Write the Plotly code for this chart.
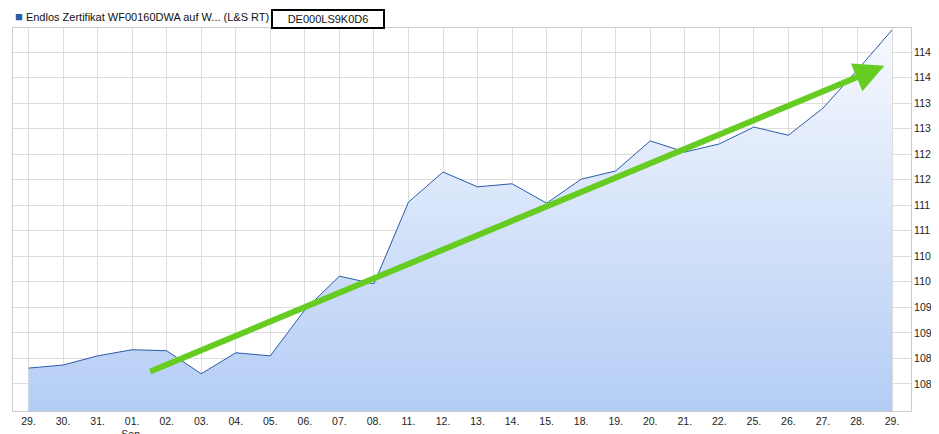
import plotly.graph_objects as go

labels = ["29.", "30.", "31.", "01.<br>Sep.", "02.", "03.", "04.", "05.", "06.", "07.", "08.", "11.", "12.",
          "13.", "14.", "15.", "18.", "19.", "20.", "21.", "22.", "25.", "26.", "27.", "28.", "29."]
kurs = [108.31, 108.37, 108.55, 108.67, 108.65, 108.20, 108.61, 108.55, 109.45, 110.11, 109.96, 111.56, 112.15,
        111.86, 111.92, 111.54, 112.01, 112.17, 112.76, 112.54, 112.70, 113.03, 112.87, 113.40, 114.15, 114.93]
yticks = [108.0 + 0.5 * i for i in range(14)]
ymin, ymax = 107.47, 114.97

xs = list(range(len(kurs)))

fig = go.Figure()
fig.add_trace(go.Scatter(x=xs, y=[ymin] * len(xs), mode="lines", line=dict(width=0), showlegend=False,
                         hoverinfo="skip"))
fig.add_trace(go.Scatter(
    x=xs, y=kurs, mode="lines", line=dict(color="#2a5caa", width=1), fill="tonexty",
    fillgradient=dict(type="vertical", colorscale=[[0, "#b4cdf5"], [1, "#f7f9fe"]]),
    showlegend=False))

# Trendpfeil
fig.add_annotation(x=24.78, y=114.23, ax=3.48, ay=108.23, xref="x", yref="y", axref="x", ayref="y",
                   showarrow=True, arrowhead=2, arrowsize=1.0, arrowwidth=6, arrowcolor="#66cc22", text="")

fig.add_annotation(x=5, y=9, xref="paper", yref="paper", xanchor="left", yanchor="middle", showarrow=False,
                   text="<span style='color:#2a5caa;font-size:13px'>■</span> Endlos Zertifikat WF00160DWA auf W... (L&S RT)",
                   font=dict(size=11, color="#111"))
fig.add_annotation(x=263, y=11, xref="paper", yref="paper", xanchor="left", yanchor="middle", showarrow=False,
                   text="DE000LS9K0D6", font=dict(size=11, color="#111"), bordercolor="black", borderwidth=2,
                   width=108, height=14, bgcolor="white")

fig.update_layout(
    width=939, height=434, margin=dict(l=5, r=36, t=20, b=31, autoexpand=False),
    plot_bgcolor="white", paper_bgcolor="white",
    font=dict(family="Liberation Sans, Arial", size=11, color="#222"),
    xaxis=dict(range=[-0.45, 25.55], tickvals=xs, ticktext=labels, showgrid=True, gridcolor="#dddddd",
               showline=True, linecolor="#cccccc", mirror=True, zeroline=False, ticks="", tickangle=0,
               ticklabelstandoff=0, tickfont=dict(size=10.5)),
    yaxis=dict(range=[ymin, ymax], side="right", tickvals=yticks,
               ticktext=[f"{v:.1f}".replace(".", ",") for v in yticks], showgrid=True, gridcolor="#dddddd",
               showline=True, linecolor="#cccccc", mirror=True, zeroline=False, ticks="",
               ticklabelstandoff=0, tickfont=dict(size=10.5)),
)
# paper coords for annotations in pixels
for a in fig.layout.annotations:
    if a.xref == "paper":
        a.x = (a.x - 5) / 898
        a.y = 1 + (20 - a.y) / 383
fig.write_html("out.html")
